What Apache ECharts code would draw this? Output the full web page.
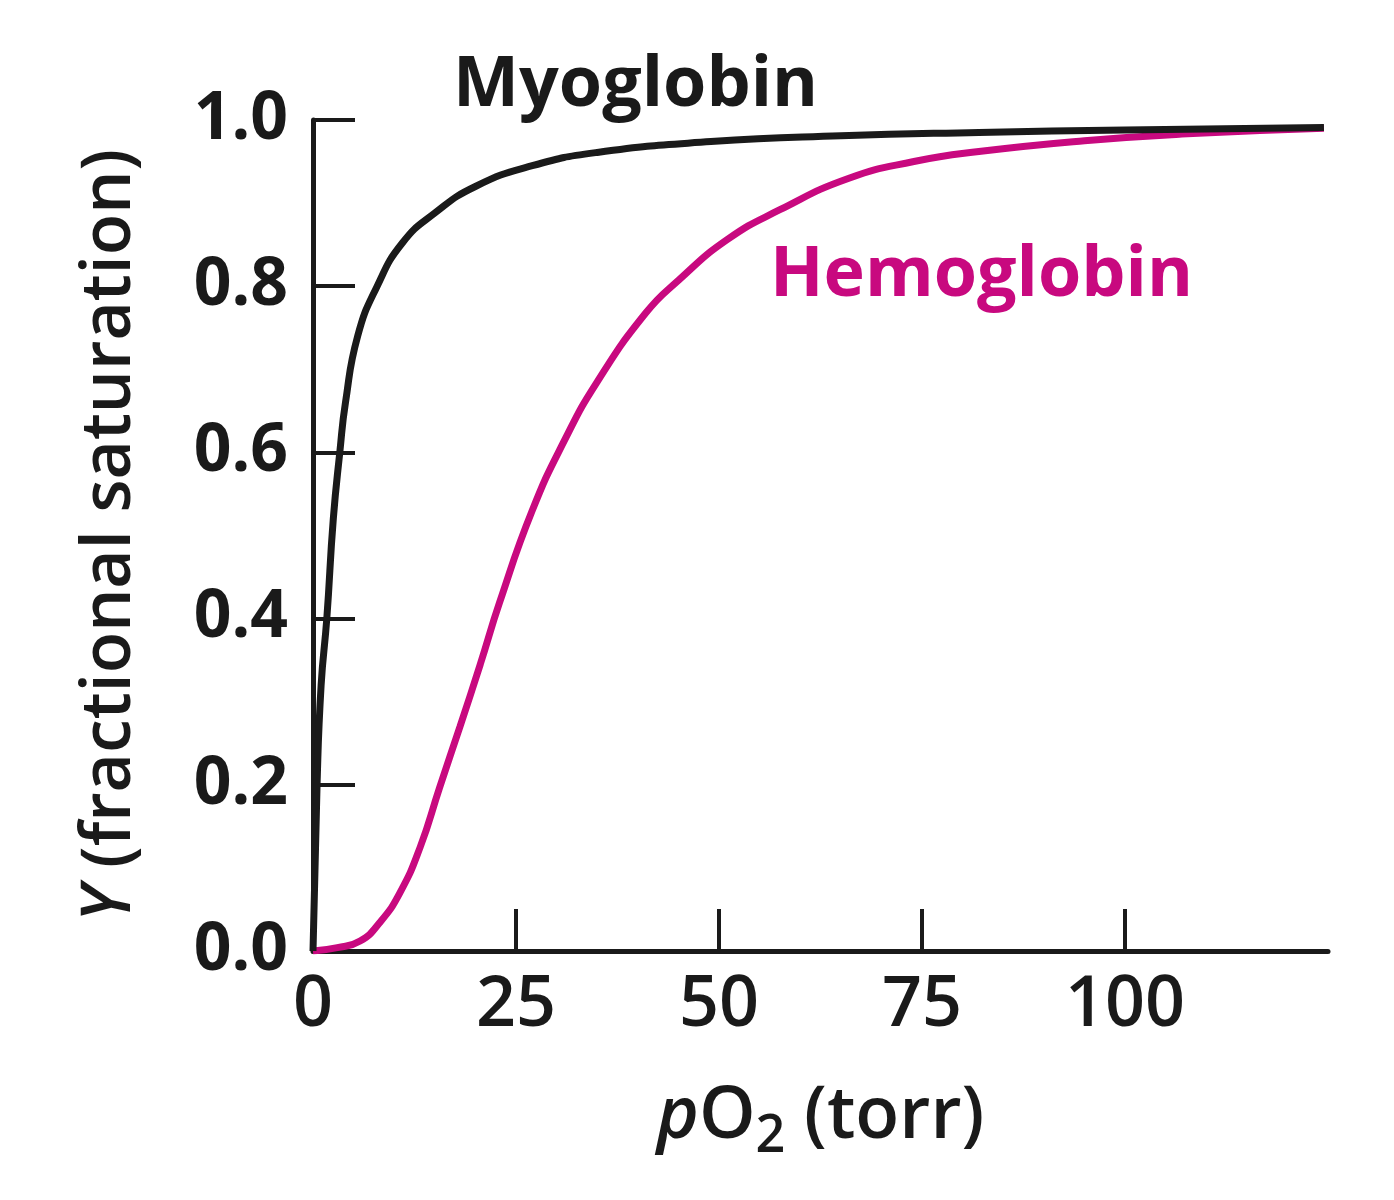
<!DOCTYPE html>
<html>
<head>
<meta charset="utf-8">
<title>Oxygen binding curves</title>
<script src="https://cdn.jsdelivr.net/npm/echarts@6/dist/echarts.min.js"></script>
<style>
  html, body { margin: 0; padding: 0; background: #fff; }
  #chart { width: 1394px; height: 1200px; }
</style>
</head>
<body>
<div id="chart"></div>
<script>
// values
const myoPO2 = [0, 0.5, 1, 1.7, 2.5, 3.3, 4, 5.5, 7.9, 11, 15, 20, 27, 35, 49, 65, 82, 100, 124.5]
const myoY = [0, 0.2, 0.32, 0.40, 0.52, 0.60, 0.66, 0.74, 0.80, 0.852, 0.888, 0.92, 0.945, 0.961, 0.974, 0.981, 0.985, 0.988, 0.991]

const hbPO2 = [0, 3, 5.8, 8.2, 10.7, 13.2, 15.6, 18.1, 20.6, 23, 27, 31, 35, 41, 45, 51, 57.5, 66, 74, 82, 95, 107, 124.5]
const hbY = [0, 0.004, 0.012, 0.034, 0.07, 0.125, 0.197, 0.27, 0.345, 0.42, 0.53, 0.615, 0.685, 0.768, 0.807, 0.856, 0.892, 0.93, 0.95, 0.962, 0.975, 0.983, 0.99]

const xTicks = [0, 25, 50, 75, 100]

const INK = "#1a1a1a"
const MAGENTA = "#c8097f"
const FONT = "Open Sans"

const zip = (xs, ys) => xs.map((x, i) => [x, ys[i]])

const chart = echarts.init(document.getElementById("chart"), null, { renderer: "canvas" })

const option = {
  backgroundColor: "#fff",
  animation: false,
  grid: { left: 313, right: 66, top: 120, bottom: 249, containLabel: false },
  xAxis: {
    type: "value",
    min: 0,
    max: 125,
    name: "{i|p}{n|O}{sub|2}{n| (torr)}",
    nameLocation: "middle",
    nameGap: 120,
    nameTextStyle: {
      rich: {
        i: { fontFamily: FONT, fontSize: 72, fontWeight: 600, fontStyle: "italic", color: INK },
        n: { fontFamily: FONT, fontSize: 72, fontWeight: 600, color: INK },
        sub: { fontFamily: FONT, fontSize: 52, fontWeight: 600, color: INK, padding: [40, 0, 0, 0] },
      },
    },
    splitLine: { show: false },
    axisLine: { onZero: false, lineStyle: { color: INK, width: 5 } },
    axisTick: {
      inside: true,
      length: 42,
      customValues: xTicks,
      lineStyle: { color: INK, width: 4 },
    },
    axisLabel: {
      customValues: xTicks,
      margin: 20,
      fontFamily: FONT,
      fontSize: 70,
      fontWeight: 600,
      color: INK,
    },
  },
  yAxis: {
    type: "value",
    min: 0,
    max: 1,
    interval: 0.2,
    name: "{i|Y}{n| (fractional saturation)}",
    nameLocation: "middle",
    nameGap: 168,
    nameTextStyle: {
      rich: {
        i: { fontFamily: FONT, fontSize: 68, fontWeight: 600, fontStyle: "italic", color: INK },
        n: { fontFamily: FONT, fontSize: 68, fontWeight: 600, color: INK },
      },
    },
    splitLine: { show: false },
    axisLine: { onZero: false, lineStyle: { color: INK, width: 5 } },
    axisTick: {
      inside: true,
      length: 42,
      lineStyle: { color: INK, width: 4 },
    },
    axisLabel: {
      margin: 25,
      padding: [0, 0, 16, 0],
      fontFamily: FONT,
      fontSize: 66,
      fontWeight: "bold",
      color: INK,
      formatter: (v) => v.toFixed(1),
    },
  },
  graphic: [
    {
      type: "text",
      style: {
        x: 453, y: 86, text: "Myoglobin",
        font: `bold 70px "${FONT}"`, fill: INK,
        verticalAlign: "middle",
      },
    },
    {
      type: "text",
      style: {
        x: 770, y: 276, text: "Hemoglobin",
        font: `bold 70px "${FONT}"`, fill: MAGENTA,
        verticalAlign: "middle",
      },
    },
  ],
  series: [
    {
      name: "Hemoglobin",
      type: "line",
      data: zip(hbPO2, hbY),
      smooth: 0.5,
      showSymbol: false,
      lineStyle: { color: MAGENTA, width: 7 },
      z: 2,
    },
    {
      name: "Myoglobin",
      type: "line",
      data: zip(myoPO2, myoY),
      smooth: 0.5,
      showSymbol: false,
      lineStyle: { color: INK, width: 7 },
      z: 3,
    },
  ],
}

chart.setOption(option)
</script>
</body>
</html>
